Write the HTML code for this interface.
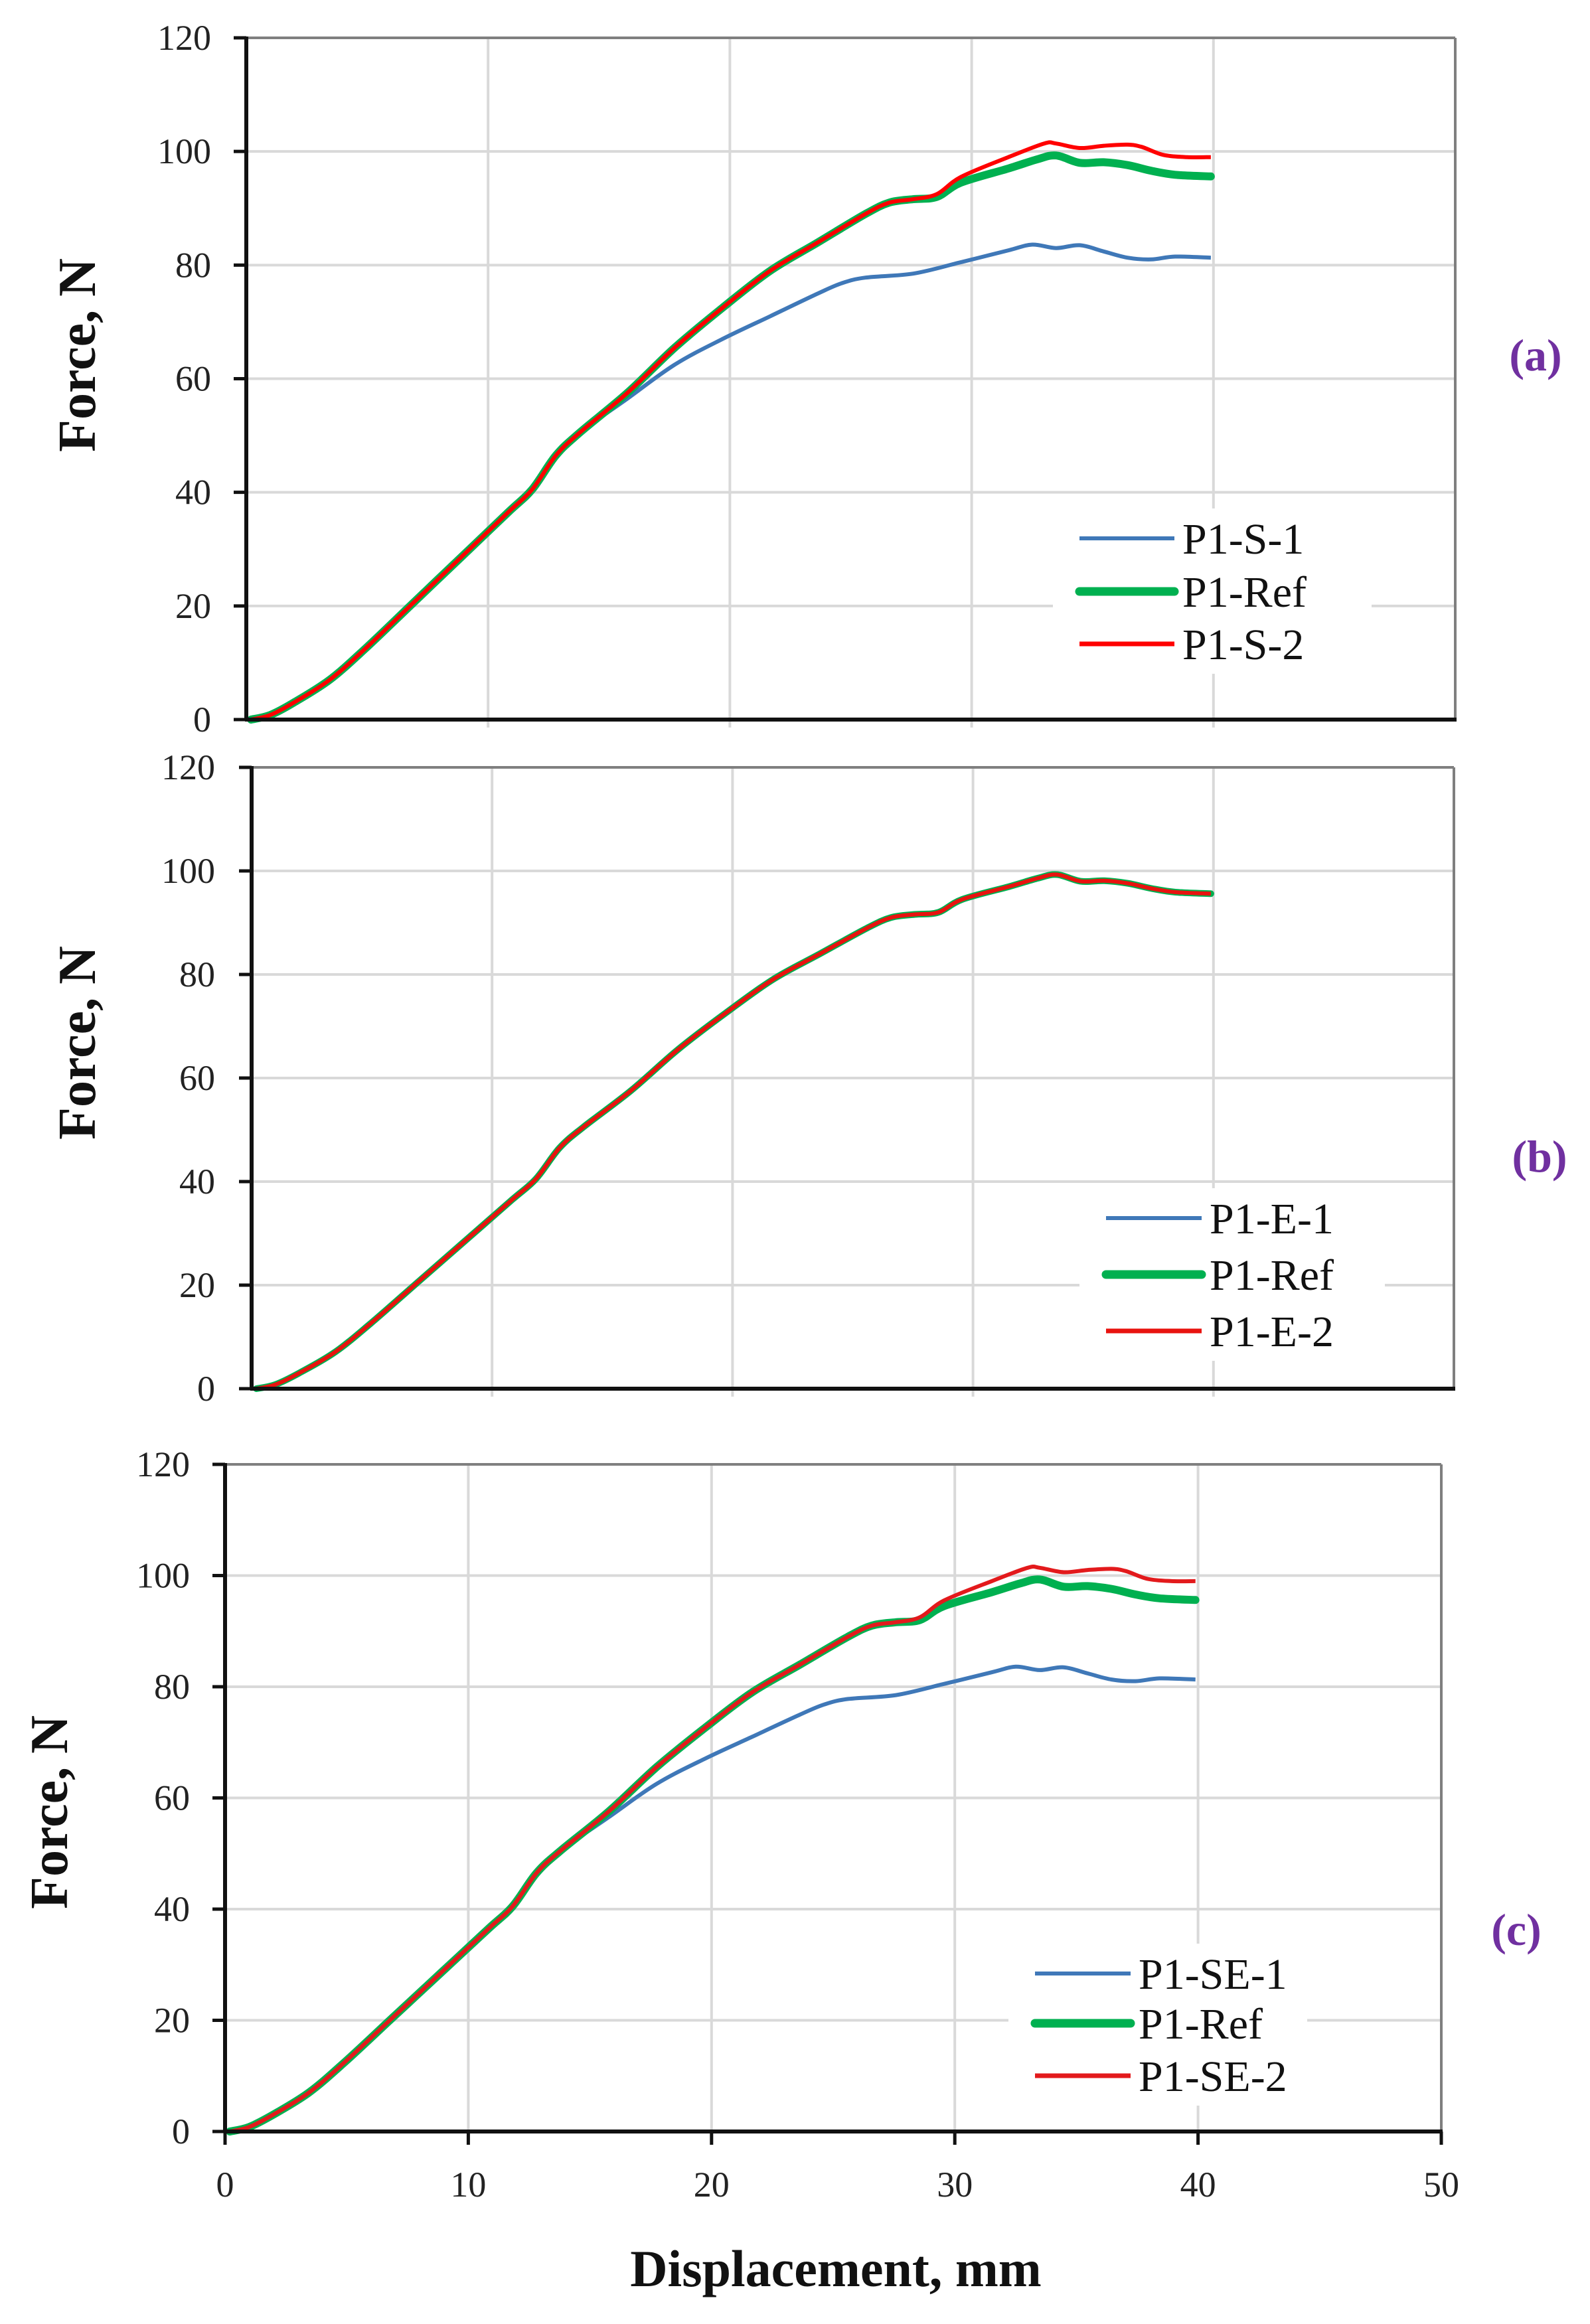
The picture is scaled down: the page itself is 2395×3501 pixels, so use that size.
<!DOCTYPE html>
<html><head><meta charset="utf-8">
<style>
html,body{margin:0;padding:0;background:#fff;}
svg{display:block;}
text{font-family:"Liberation Serif",serif;}
</style></head>
<body>
<svg id="s" width="2395" height="3501" viewBox="0 0 2395 3501" xmlns="http://www.w3.org/2000/svg"></svg>
<script>
const NS="http://www.w3.org/2000/svg";
const S=document.getElementById('s');
function el(t,a,txt){const e=document.createElementNS(NS,t);for(const k in a)e.setAttribute(k,a[k]);if(txt!==undefined)e.textContent=txt;S.appendChild(e);return e;}
const ref=[[0.2,0],[1,0.8],[2,3],[3.5,7],[5,12.5],[7,20.5],[9,28.5],[11,36.5],[12,40.5],[13,46.5],[14,50.5],[16,57.5],[18,65.5],[20,72.5],[22,79],[24,84],[26,89],[27,91],[28,91.6],[29,92],[30,94.5],[32,97],[33.2,98.6],[34,99.3],[35,98],[36,98.1],[37,97.6],[38,96.6],[39,95.9],[40.5,95.6]];
const s2=ref.slice(0,19).concat([[29,92.5],[30,95.5],[32,99],[33.5,101.4],[34,101.4],[35,100.6],[36,101],[37,101.2],[37.6,100.8],[38.5,99.4],[39.5,99],[40.5,99]]);
const s1=ref.slice(0,11).concat([[16,56.5],[18,62.5],[20,67],[22,71],[24,75],[25,76.8],[26,77.8],[28,78.5],[30,80.5],[32,82.6],[33,83.6],[34,83],[35,83.5],[36,82.4],[37,81.3],[38,81],[39,81.5],[40.5,81.3]]);
function path(pts,X,Y){
 const p=pts.map(q=>[X(q[0]),Y(q[1])]);
 let d="M"+p[0][0].toFixed(1)+","+p[0][1].toFixed(1);
 for(let i=0;i<p.length-1;i++){
  const p0=p[Math.max(0,i-1)],p1=p[i],p2=p[i+1],p3=p[Math.min(p.length-1,i+2)];
  const c1=[p1[0]+(p2[0]-p0[0])/6,p1[1]+(p2[1]-p0[1])/6];
  const c2=[p2[0]-(p3[0]-p1[0])/6,p2[1]-(p3[1]-p1[1])/6];
  d+=`C${c1[0].toFixed(1)},${c1[1].toFixed(1)} ${c2[0].toFixed(1)},${c2[1].toFixed(1)} ${p2[0].toFixed(1)},${p2[1].toFixed(1)}`;
 }
 return d;
}
function panel(o){
 const {x0,x50,y0,y120,labR,tickL,xs,hide}=o;
 const X=v=>x0+(x50-x0)*v/50*xs, Y=v=>y0-(y0-y120)*v/120;
 const Xg=v=>x0+(x50-x0)*v/50;
 for(let v=20;v<=100;v+=20) el('line',{x1:x0,x2:x50,y1:Y(v),y2:Y(v),stroke:'#d9d9d9','stroke-width':4});
 for(let v=10;v<=40;v+=10) el('line',{x1:Xg(v),x2:Xg(v),y1:y120,y2:y0+(o.xticks?0:12),stroke:'#d9d9d9','stroke-width':4});
 el('line',{x1:x0,x2:x50,y1:y120,y2:y120,stroke:'#7f7f7f','stroke-width':4});
 el('line',{x1:x50,x2:x50,y1:y120,y2:y0,stroke:'#7f7f7f','stroke-width':4});
 el('rect',{x:o.lx-40,y:o.ly[0]-45,width:o.lw,height:o.ly[2]-o.ly[0]+90,fill:'#fff'});
 for(let v=0;v<=120;v+=20){
  el('line',{x1:tickL,x2:x0,y1:Y(v),y2:Y(v),stroke:'#111','stroke-width':5});
  el('text',{x:labR,y:Y(v)+18,'text-anchor':'end','font-size':54,fill:'#222'},String(v));
 }
 if(o.xticks){for(let v=0;v<=50;v+=10){el('line',{x1:Xg(v),x2:Xg(v),y1:y0,y2:y0+20,stroke:'#111','stroke-width':5});
  el('text',{x:Xg(v),y:y0+98,'text-anchor':'middle','font-size':54,fill:'#222'},String(v));}}
 if(!hide) el('path',{d:path(s1,X,Y),fill:'none',stroke:'#3f78b8','stroke-width':6,'stroke-linejoin':'round'});
 el('path',{d:path(ref,X,Y),fill:'none',stroke:'#00b050','stroke-width':hide?10:12,'stroke-linejoin':'round','stroke-linecap':'round'});
 el('path',{d:path(hide?ref:s2,X,Y),fill:'none',stroke:o.red,'stroke-width':6,'stroke-linejoin':'round'});
 el('line',{x1:x0,x2:x0,y1:y120-2,y2:y0+2,stroke:'#111','stroke-width':6});
 el('line',{x1:x0-2,x2:x50+2,y1:y0,y2:y0,stroke:'#111','stroke-width':6});
 const cols=['#3f78b8','#00b050',o.red],ws=[6,13,7];
 for(let i=0;i<3;i++){
  el('line',{x1:o.lx,x2:o.lx+o.ll,y1:o.ly[i],y2:o.ly[i],stroke:cols[i],'stroke-width':ws[i],'stroke-linecap':i==1?'round':'butt'});
  el('text',{x:o.lx+o.ll+12,y:o.ly[i]+23,'font-size':66,fill:'#111'},o.names[i]);
 }
 el('text',{x:0,y:0,'font-size':80,'font-weight':'bold','text-anchor':'middle',fill:'#111',transform:`translate(${o.yt[0]+27},${o.yt[1]}) rotate(-90)`},'Force, N');
 el('text',{x:o.tag[0],y:o.tag[1]+22,'font-size':68,'font-weight':'bold','text-anchor':'middle',fill:'#7030a0'},o.tagT);
}
panel({x0:371,x50:2192,y0:1084,y120:57,labR:318,tickL:352,xs:0.985,lx:1626,ll:143,ly:[811,891,970],lw:480,names:['P1-S-1','P1-Ref','P1-S-2'],red:'#ff0000',yt:[116,535],tag:[2313,536],tagT:'(a)'});
panel({x0:379,x50:2190,y0:2092,y120:1156,labR:324,tickL:360,xs:0.985,lx:1666,ll:144,ly:[1835,1920,2005],lw:460,names:['P1-E-1','P1-Ref','P1-E-2'],red:'#e8130f',yt:[116,1571],tag:[2319,1743],tagT:'(b)',hide:true});
panel({x0:339,x50:2171,y0:3211,y120:2206,labR:286,tickL:320,xs:0.985,xticks:true,lx:1559,ll:144,ly:[2973,3048,3127],lw:450,names:['P1-SE-1','P1-Ref','P1-SE-2'],red:'#e31a1c',yt:[74,2730],tag:[2284,2908],tagT:'(c)'});
el('text',{x:1259,y:3444,'font-size':78,'font-weight':'bold','text-anchor':'middle',fill:'#111'},'Displacement, mm');
</script>
</body></html>
